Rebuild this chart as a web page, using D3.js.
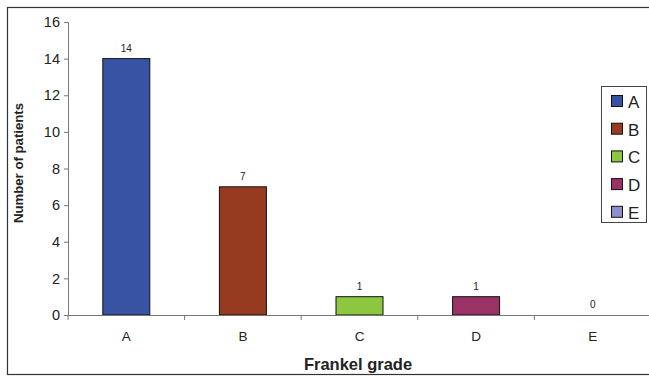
<!DOCTYPE html>
<html><head><meta charset="utf-8">
<script src="https://cdn.jsdelivr.net/npm/d3@7"></script>
<style>body{margin:0;background:#fff}svg{display:block;font-family:"Liberation Sans",Arial,sans-serif}</style>
</head><body><svg id="c" width="649" height="378"></svg>
<script>
const categories = ["A","B","C","D","E"];
const values = [14,7,1,1,0];
const colors = ["#3953a4","#963b20","#8dc63f","#993366","#8e90cc"];
const yTicks = [0,2,4,6,8,10,12,14,16];

(function(){
const svg = d3.select("#c");
// outer frame
svg.append("rect").attr("x",7.5).attr("y",7.5).attr("width",660).attr("height",367)
  .attr("fill","none").attr("stroke","#333").attr("stroke-width",1.2);

const mLeft=68, mRight=651, mTop=22, mBottom=315;
const x = d3.scaleBand().domain(categories).range([mLeft,mRight]);
const y = d3.scaleLinear().domain([0,16]).range([mBottom,mTop]);

// bars
svg.selectAll("rect.bar").data(values).join("rect").attr("class","bar")
  .attr("x",(d,i)=>x(categories[i])+x.bandwidth()/2-23.5)
  .attr("width",47)
  .attr("y",d=>y(d)).attr("height",d=>y(0)-y(d))
  .attr("fill",(d,i)=>colors[i]).attr("stroke","#111").attr("stroke-width",1)
  .attr("display",d=>d>0?null:"none");

// value labels
svg.selectAll("text.val").data(values).join("text").attr("class","val")
  .attr("x",(d,i)=>x(categories[i])+x.bandwidth()/2)
  .attr("y",d=>y(d)-7).attr("text-anchor","middle")
  .attr("font-size",10).attr("fill","#222").text(d=>d);

// y axis
const ya = svg.append("g").attr("transform",`translate(${mLeft},0)`)
  .call(d3.axisLeft(y).tickValues(yTicks).tickSize(4).tickPadding(4));
ya.select(".domain").attr("stroke","#777");
ya.selectAll(".tick line").attr("stroke","#777");
ya.selectAll("text").attr("font-size",14.5).attr("fill","#222").attr("font-family","Liberation Sans, Arial, sans-serif");

// x axis
const xa = svg.append("g").attr("transform",`translate(0,${mBottom})`)
  .call(d3.axisBottom(x).tickSize(0).tickPadding(16));
xa.select(".domain").attr("stroke","#777");
xa.selectAll("text").attr("font-size",13.5).attr("fill","#222").attr("font-family","Liberation Sans, Arial, sans-serif");
// boundary ticks
svg.selectAll("line.xt").data(categories.slice(1)).join("line").attr("class","xt")
  .attr("x1",d=>x(d)).attr("x2",d=>x(d)).attr("y1",mBottom).attr("y2",mBottom+5)
  .attr("stroke","#777");
svg.append("line").attr("x1",mLeft).attr("x2",mLeft).attr("y1",mBottom).attr("y2",mBottom+5).attr("stroke","#777");

// axis titles
svg.append("text").attr("x",358).attr("y",370).attr("text-anchor","middle")
  .attr("font-size",16.5).attr("font-weight","bold").attr("fill","#222").text("Frankel grade");
svg.append("text").attr("transform","translate(23,163) rotate(-90)").attr("text-anchor","middle")
  .attr("font-size",13.2).attr("font-weight","bold").attr("fill","#222").text("Number of patients");

// legend
const lg = svg.append("g");
lg.append("rect").attr("x",601.5).attr("y",86.5).attr("width",45).attr("height",136)
  .attr("fill","#fff").attr("stroke","#444").attr("stroke-width",1);
const it = lg.selectAll("g.it").data(categories).join("g").attr("class","it")
  .attr("transform",(d,i)=>`translate(0,${102+i*27.7})`);
it.append("rect").attr("x",611.5).attr("y",-6.5).attr("width",11).attr("height",11)
  .attr("fill",(d,i)=>colors[i]).attr("stroke","#111");
it.append("text").attr("x",628).attr("y",6).attr("font-size",17).attr("fill","#222").text(d=>d);
})();
</script></body></html>
